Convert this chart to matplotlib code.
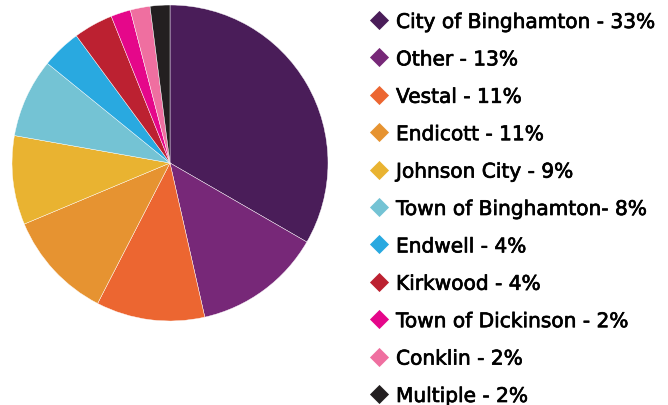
import matplotlib
matplotlib.use("Agg")
import matplotlib.pyplot as plt
import matplotlib.patheffects as pe

# slices, clockwise from 12 o'clock
labels = ["City of Binghamton", "Other", "Vestal", "Endicott", "Johnson City",
          "Town of Binghamton", "Endwell", "Kirkwood", "Town of Dickinson",
          "Conklin", "Multiple"]
shares = [33, 13, 11, 11, 9, 8, 4, 4, 2, 2, 2]
legend_text = ["City of Binghamton - 33%", "Other - 13%", "Vestal - 11%",
               "Endicott - 11%", "Johnson City - 9%", "Town of Binghamton- 8%",
               "Endwell - 4%", "Kirkwood - 4%", "Town of Dickinson - 2%",
               "Conklin - 2%", "Multiple - 2%"]
colors = ["#4a1d59", "#772878", "#ec6631", "#e69331", "#e9b331", "#74c3d4",
          "#29a9e0", "#bc2131", "#e5078a", "#ef6fa0", "#231f20"]

W, H = 668, 406
fig = plt.figure(figsize=(W / 100, H / 100), dpi=100)

# pie: centre (170,164) px, radius 158 px
cx, cy, r = 170, 164, 158
ax = fig.add_axes([(cx - r) / W, (H - cy - r) / H, 2 * r / W, 2 * r / H])
ax.pie(shares, colors=colors, startangle=90, counterclock=False,
       wedgeprops=dict(edgecolor="white", linewidth=0.3), radius=1)
ax.set_xlim(-1, 1)
ax.set_ylim(-1, 1)
ax.set_aspect("equal")
ax.axis("off")

# legend drawn by hand in pixel coordinates
lax = fig.add_axes([0, 0, 1, 1])
lax.set_xlim(0, W)
lax.set_ylim(H, 0)
lax.axis("off")
y0, dy = 21, 37.4
# thin stroke to get closer to the medium weight of the original font
heavier = [pe.withStroke(linewidth=0.5, foreground="#000000")]
for i, (txt, col) in enumerate(zip(legend_text, colors)):
    y = y0 + i * dy
    lax.scatter([379], [y], marker="D", s=95, color=col, linewidths=0)
    lax.text(396, y + 2.5, txt, fontsize=14.5, fontfamily="DejaVu Sans",
             va="center", ha="left", color="#000000", path_effects=heavier)

fig.savefig("out.png", dpi=100)
